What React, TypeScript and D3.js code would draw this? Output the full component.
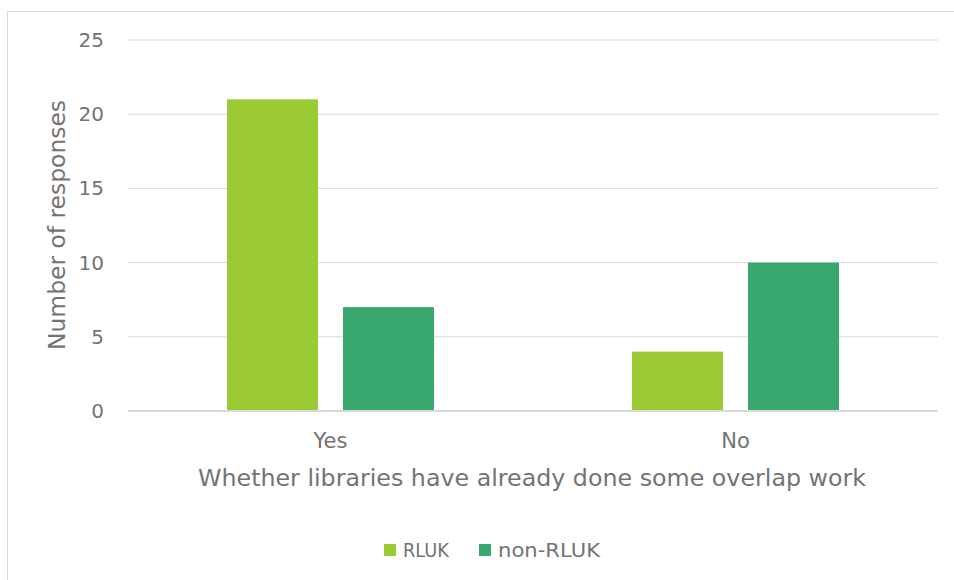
import React from "react";
import * as d3 from "d3";

const categories = ["Yes", "No"];
const seriesNames = ["RLUK", "non-RLUK"];
const rlukValues = [21, 4];
const nonRlukValues = [7, 10];
const yTicks = [0, 5, 10, 15, 20, 25];
const colors = ["#9ACB34", "#38A86F"];

export default function App() {
  const W = 954, H = 580;
  const left = 128, right = 938, top = 40, bottom = 411;
  const x0 = d3.scaleBand().domain(categories).range([left, right]).paddingInner(0).paddingOuter(0);
  const y = d3.scaleLinear().domain([0, 25]).range([bottom, top]);
  const barW = 91, gap = 25;
  const series = [rlukValues, nonRlukValues];
  const text = "#737373";
  const font = "'DejaVu Sans', sans-serif";
  return (
    <svg width={W} height={H} style={{ position: "absolute", left: 0, top: 0, background: "#fff" }} fontFamily={font}>
      <rect x={7.5} y={11.5} width={W} height={H} fill="none" stroke="#d9d9d9" strokeWidth={1} />
      {yTicks.map((t) => (
        <g key={t}>
          <line x1={left} x2={right} y1={y(t)} y2={y(t)} stroke="#d9d9d9" strokeWidth={t === 0 ? 2 : 1} />
          <text x={104} y={y(t)} dy="0.35em" textAnchor="end" fontSize={20} fill={text}>{t}</text>
        </g>
      ))}
      {categories.map((c, i) => {
        const cx = x0(c)! + x0.bandwidth() / 2;
        return (
          <g key={c}>
            {series.map((vals, s) => {
              const bx = cx - gap / 2 - barW + s * (barW + gap);
              return <rect key={s} x={bx} y={y(vals[i])} width={barW} height={y(0) - y(vals[i]) - 1} fill={colors[s]} />;
            })}
            <text x={cx} y={441} dy="0.35em" textAnchor="middle" fontSize={21} fill={text}>{c}</text>
          </g>
        );
      })}
      <text x={532} y={478} dy="0.35em" textAnchor="middle" fontSize={23} fill={text} textLength={668} lengthAdjust="spacingAndGlyphs">Whether libraries have already done some overlap work</text>
      <text transform={`translate(57,225) rotate(-90)`} dy="0.35em" textAnchor="middle" fontSize={23} fill={text} textLength={250} lengthAdjust="spacingAndGlyphs">Number of responses</text>
      <g>
        <rect x={384} y={544} width={12} height={12} fill={colors[0]} />
        <text x={403} y={550} dy="0.35em" fontSize={19} fill={text} textLength={46} lengthAdjust="spacingAndGlyphs">{seriesNames[0]}</text>
        <rect x={479} y={544} width={12} height={12} fill={colors[1]} />
        <text x={498} y={550} dy="0.35em" fontSize={19} fill={text} textLength={102} lengthAdjust="spacingAndGlyphs">{seriesNames[1]}</text>
      </g>
    </svg>
  );
}
